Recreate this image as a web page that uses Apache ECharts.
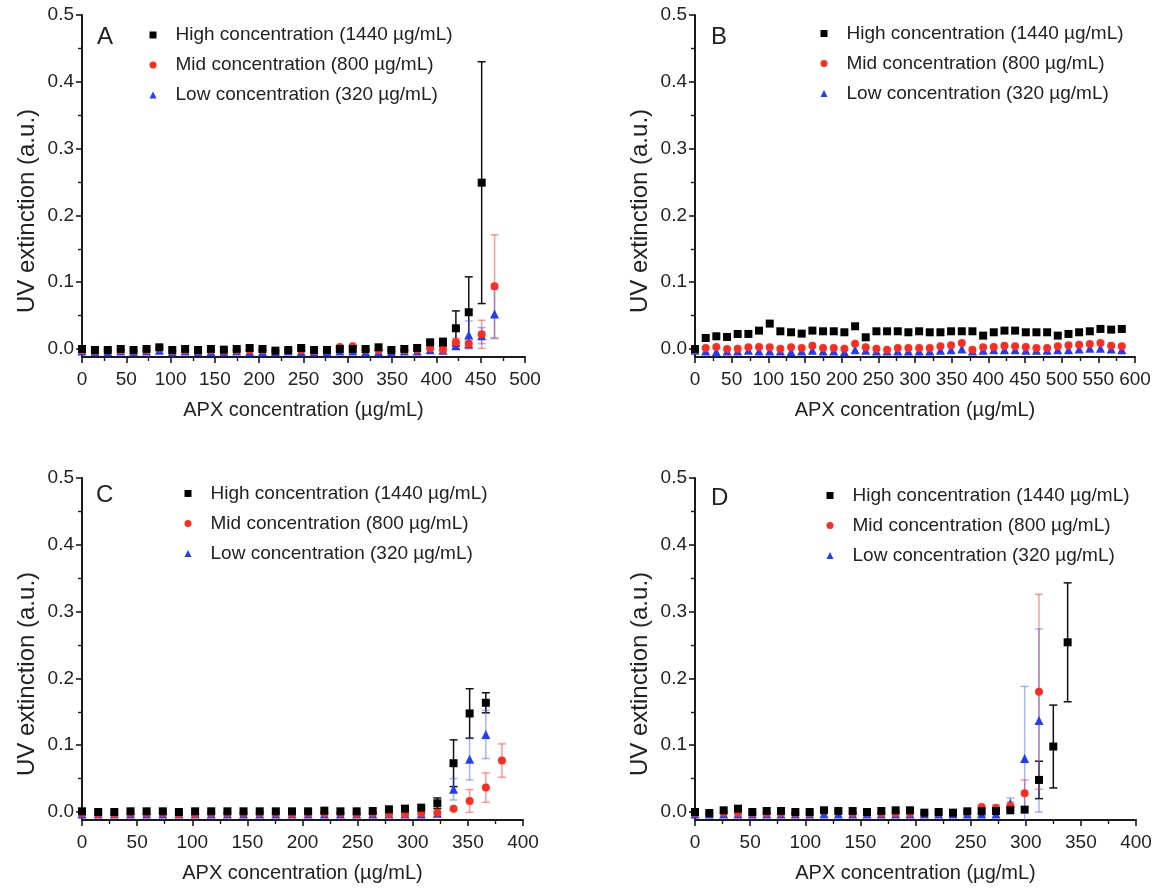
<!DOCTYPE html>
<html><head><meta charset="utf-8">
<script src="https://cdn.jsdelivr.net/npm/echarts@6/dist/echarts.min.js"></script>
<style>html,body{margin:0;padding:0;background:#fff}#c{width:1157px;height:888px}</style>
</head><body><div id="c"></div><script>
// ---------- data ----------
const seriesNames = ['High concentration (1440 µg/mL)', 'Mid concentration (800 µg/mL)', 'Low concentration (320 µg/mL)'];
const yTicks = [0, 0.1, 0.2, 0.3, 0.4, 0.5];
const yMinorTicks = [0.05, 0.15, 0.25, 0.35, 0.45];

// Panel A
const apxA = [0, 14.6, 29.1, 43.7, 58.2, 72.8, 87.3, 101.9, 116.4, 131.0, 145.5, 160.1, 174.6, 189.2, 203.7, 218.3, 232.8, 247.4, 261.9, 276.5, 291.0, 305.6, 320.1, 334.7, 349.2, 363.8, 378.3, 392.9, 407.4, 422.0, 436.5, 451.1, 465.6];
const highA = [0.000, -0.0015, -0.0015, 0.000, -0.0015, 0.000, 0.0025, -0.0015, 0.000, -0.0015, 0.000, -0.001, 0.000, 0.0015, 0.000, -0.0025, -0.0015, 0.0015, -0.0015, -0.0015, 0.000, 0.000, 0.000, 0.0025, -0.0015, 0.000, 0.0015, 0.010, 0.010, 0.031, 0.055, 0.249];
const highErrA = [0, 0, 0, 0, 0, 0, 0, 0, 0, 0, 0, 0, 0, 0, 0, 0, 0, 0, 0, 0, 0, 0, 0, 0, 0, 0, 0, 0.003, 0.006, 0.026, 0.053, 0.181];
const midA = [-0.002, -0.003, -0.002, -0.002, -0.003, -0.002, 0.001, -0.003, -0.002, -0.003, -0.002, -0.003, -0.002, -0.002, -0.002, -0.003, -0.002, -0.002, -0.003, -0.002, 0.003, 0.004, -0.001, -0.002, -0.002, -0.002, -0.001, 0.001, -0.001, 0.010, 0.008, 0.022, 0.094];
const midErrA = [0, 0, 0, 0, 0, 0, 0, 0, 0, 0, 0, 0, 0, 0, 0, 0, 0, 0, 0, 0, 0, 0, 0, 0, 0, 0, 0, 0, 0, 0.006, 0.005, 0.021, 0.077];
const lowA = [-0.003, -0.004, -0.004, -0.003, -0.004, -0.003, -0.002, -0.004, -0.003, -0.004, -0.004, -0.004, -0.003, -0.004, -0.004, -0.004, -0.003, -0.004, -0.004, -0.004, -0.003, -0.003, -0.004, -0.004, -0.004, -0.003, -0.003, -0.001, -0.002, 0.005, 0.021, 0.020, 0.0525];
const lowErrA = [0, 0, 0, 0, 0, 0, 0, 0, 0, 0, 0, 0, 0, 0, 0, 0, 0, 0, 0, 0, 0, 0, 0, 0, 0, 0, 0, 0, 0, 0.004, 0.021, 0.012, 0.037];

// Panel B
const apxB = [0, 14.6, 29.1, 43.7, 58.2, 72.8, 87.3, 101.9, 116.4, 131.0, 145.5, 160.1, 174.6, 189.2, 203.7, 218.3, 232.8, 247.4, 261.9, 276.5, 291.0, 305.6, 320.1, 334.7, 349.2, 363.8, 378.3, 392.9, 407.4, 422.0, 436.5, 451.1, 465.6, 480.2, 494.7, 509.3, 523.8, 538.4, 552.9, 567.5, 582.0];
const highB = [0.000, 0.0165, 0.019, 0.018, 0.0225, 0.0225, 0.0275, 0.038, 0.0265, 0.025, 0.023, 0.0275, 0.0265, 0.0265, 0.025, 0.034, 0.0175, 0.0265, 0.0265, 0.0265, 0.025, 0.0265, 0.025, 0.025, 0.0265, 0.0265, 0.0265, 0.020, 0.025, 0.0275, 0.0275, 0.025, 0.025, 0.025, 0.020, 0.0225, 0.025, 0.0265, 0.030, 0.029, 0.030];
const midB = [-0.001, 0.0015, 0.003, 0.000, 0.0005, 0.0025, 0.003, 0.0025, 0.0005, 0.0025, 0.0015, 0.005, 0.0015, 0.0015, 0.0005, 0.008, 0.0025, 0.0005, -0.001, 0.0015, 0.0015, 0.0015, 0.0015, 0.004, 0.0055, 0.009, -0.001, 0.0025, 0.003, 0.005, 0.004, 0.003, 0.0015, 0.0015, 0.004, 0.0055, 0.0065, 0.0075, 0.009, 0.005, 0.004];
const lowB = [-0.002, -0.003, -0.004, -0.003, -0.003, -0.002, -0.003, -0.003, -0.003, -0.004, -0.003, -0.002, -0.003, -0.003, -0.004, -0.001, -0.002, -0.003, -0.003, -0.003, -0.003, -0.003, -0.003, -0.002, -0.001, 0.000, -0.003, -0.002, -0.001, -0.001, -0.001, -0.002, -0.002, -0.002, -0.001, -0.001, 0.000, 0.001, 0.001, 0.000, -0.001];

// Panel C
const apxC = [0, 14.7, 29.3, 44.0, 58.6, 73.3, 87.9, 102.6, 117.2, 131.9, 146.5, 161.2, 175.8, 190.5, 205.1, 219.8, 234.4, 249.1, 263.7, 278.4, 293.0, 307.7, 322.3, 337.0, 351.6, 366.3, 380.9];
const highC = [0.001, 0.000, 0.000, 0.001, 0.001, 0.001, 0.000, 0.001, 0.001, 0.001, 0.001, 0.001, 0.001, 0.001, 0.001, 0.002, 0.001, 0.001, 0.0015, 0.004, 0.005, 0.0065, 0.013, 0.073, 0.1475, 0.1635];
const highErrC = [0, 0, 0, 0, 0, 0, 0, 0, 0, 0, 0, 0, 0, 0, 0, 0, 0, 0, 0, 0, 0, 0, 0.008, 0.035, 0.037, 0.015];
const midC = [-0.002, -0.003, -0.003, -0.002, -0.002, -0.002, -0.003, -0.003, -0.002, -0.002, -0.002, -0.002, -0.002, -0.003, -0.002, -0.002, -0.002, -0.003, -0.002, -0.003, -0.003, -0.002, -0.001, 0.005, 0.0165, 0.0365, 0.077];
const midErrC = [0, 0, 0, 0, 0, 0, 0, 0, 0, 0, 0, 0, 0, 0, 0, 0, 0, 0, 0, 0, 0, 0, 0, 0, 0.017, 0.022, 0.025];
const lowC = [-0.003, -0.003, -0.003, -0.003, -0.003, -0.003, -0.003, -0.003, -0.003, -0.003, -0.003, -0.003, -0.003, -0.003, -0.003, -0.003, -0.003, -0.003, -0.003, -0.003, -0.003, -0.003, -0.002, 0.034, 0.079, 0.116];
const lowErrC = [0, 0, 0, 0, 0, 0, 0, 0, 0, 0, 0, 0, 0, 0, 0, 0, 0, 0, 0, 0, 0, 0, 0, 0.016, 0.031, 0.036];

// Panel D
const apxD = [0, 13, 26, 39, 52, 65, 78, 91, 104, 117, 130, 143, 156, 169, 182, 195, 208, 221, 234, 247, 260, 273, 286, 299, 312, 325, 338];
const highD = [0.000, -0.0015, 0.0025, 0.005, 0.000, 0.0015, 0.0015, 0.000, 0.000, 0.0025, 0.0015, 0.0015, 0.000, 0.0015, 0.0025, 0.0025, -0.001, 0.000, -0.001, 0.001, 0.001, 0.0015, 0.0025, 0.0035, 0.048, 0.098, 0.254];
const highErrD = [0, 0, 0, 0, 0, 0, 0, 0, 0, 0, 0, 0, 0, 0, 0, 0, 0, 0, 0, 0, 0, 0, 0, 0, 0.028, 0.062, 0.089];
const midD = [-0.002, -0.002, -0.001, -0.0015, -0.002, -0.002, -0.002, -0.002, -0.002, 0.002, 0.002, -0.002, -0.001, -0.002, -0.002, -0.002, -0.002, -0.001, -0.001, 0.000, 0.0075, 0.006, 0.009, 0.028, 0.180];
const midErrD = [0, 0, 0, 0, 0, 0, 0, 0, 0, 0, 0, 0, 0, 0, 0, 0, 0, 0, 0, 0, 0.002, 0.005, 0.006, 0.020, 0.146];
const lowD = [-0.003, -0.003, -0.003, -0.003, -0.003, -0.003, -0.003, -0.003, -0.003, -0.003, -0.003, -0.003, -0.003, -0.003, -0.003, -0.003, -0.003, -0.003, -0.003, -0.003, -0.003, -0.003, 0.013, 0.080, 0.137];
const lowErrD = [0, 0, 0, 0, 0, 0, 0, 0, 0, 0, 0, 0, 0, 0, 0, 0, 0, 0, 0, 0, 0, 0, 0.008, 0.108, 0.137];

// ---------- layout / style ----------
const FONT = '"Liberation Sans", Arial, Helvetica, sans-serif';
const TXT = '#222';
const AX = '#1a1a1a';
const markerColors = ['#000000', '#ff2d1f', '#1f3dff'];
const errColors = ['#111111', 'rgba(255,70,60,0.55)', 'rgba(50,90,255,0.45)'];
const symbols = ['rect', 'circle', 'triangle'];

const panels = [
  { letter: 'A', grid: { left: 82, top: 15, width: 443, height: 342 }, xMax: 500, legend: { left: 149.5, top: 25.5 }, title: { left: 97, top: 25 },
    x: apxA, ys: [highA, midA, lowA], errs: [highErrA, midErrA, lowErrA] },
  { letter: 'B', grid: { left: 695, top: 15, width: 440, height: 342 }, xMax: 600, legend: { left: 820.5, top: 24 }, title: { left: 711, top: 25 },
    x: apxB, ys: [highB, midB, lowB], errs: [null, null, null] },
  { letter: 'C', grid: { left: 82, top: 478, width: 441, height: 342 }, xMax: 400, legend: { left: 184.5, top: 484 }, title: { left: 96, top: 483 },
    x: apxC, ys: [highC, midC, lowC], errs: [highErrC, midErrC, lowErrC] },
  { letter: 'D', grid: { left: 695, top: 478, width: 441, height: 342 }, xMax: 400, legend: { left: 826.5, top: 486 }, title: { left: 711, top: 486 },
    x: apxD, ys: [highD, midD, lowD], errs: [highErrD, midErrD, lowErrD] }
];

function errRender(color) {
  return function (params, api) {
    const x = api.value(0), y = api.value(1), e = api.value(2);
    const top = api.coord([x, y + e]);
    const bot = api.coord([x, y - e]);
    const cap = 4;
    const st = { stroke: color, lineWidth: 1.5 };
    return { type: 'group', children: [
      { type: 'line', shape: { x1: top[0], y1: top[1], x2: bot[0], y2: bot[1] }, style: st },
      { type: 'line', shape: { x1: top[0] - cap, y1: top[1], x2: top[0] + cap, y2: top[1] }, style: st },
      { type: 'line', shape: { x1: bot[0] - cap, y1: bot[1], x2: bot[0] + cap, y2: bot[1] }, style: st }
    ] };
  };
}

const grid = [], xAxis = [], yAxis = [], series = [], legend = [], title = [];
panels.forEach((p, k) => {
  grid.push(Object.assign({ containLabel: false }, p.grid));
  xAxis.push({
    gridIndex: k, type: 'value', min: 0, max: p.xMax, interval: 50,
    axisLine: { show: true, onZero: false, lineStyle: { color: AX, width: 2 } },
    axisTick: { show: true, length: 6, lineStyle: { color: AX, width: 1.6 } },
    minorTick: { show: true, splitNumber: 2, length: 4, lineStyle: { color: AX, width: 1.4 } },
    splitLine: { show: false }, minorSplitLine: { show: false },
    axisLabel: { margin: 13, fontSize: 19, fontFamily: FONT, color: TXT },
    name: 'APX concentration (µg/mL)', nameLocation: 'middle', nameGap: 43,
    nameTextStyle: { fontSize: 20, fontFamily: FONT, color: TXT }
  });
  yAxis.push({
    gridIndex: k, type: 'value', position: 'left', min: -0.012, max: 0.5,
    axisLine: { show: true, onZero: false, lineStyle: { color: AX, width: 2 } },
    axisTick: { show: true, length: 6, customValues: yTicks, lineStyle: { color: AX, width: 1.6 } },
    axisLabel: { show: true, customValues: yTicks, formatter: v => v.toFixed(1), margin: 8, fontSize: 19, fontFamily: FONT, color: TXT },
    splitLine: { show: false },
    name: 'UV extinction (a.u.)', nameLocation: 'middle', nameGap: 43,
    nameTextStyle: { fontSize: 24, fontFamily: FONT, color: TXT, padding: [0, 50, 0, 0] }
  });
  yAxis.push({
    gridIndex: k, type: 'value', position: 'left', min: -0.012, max: 0.5,
    axisLine: { show: false },
    axisTick: { show: true, length: 4, customValues: yMinorTicks, lineStyle: { color: AX, width: 1.4 } },
    axisLabel: { show: false }, splitLine: { show: false }
  });
  // error bars
  for (let s = 0; s < 3; s++) {
    const err = p.errs[s];
    if (!err) continue;
    const d = [];
    for (let i = 0; i < err.length; i++) if (err[i] > 0) d.push([p.x[i], p.ys[s][i], err[i]]);
    series.push({ type: 'custom', name: seriesNames[s] + ' SD ' + p.letter, xAxisIndex: k, yAxisIndex: 2 * k,
      renderItem: errRender(errColors[s]), data: d, z: 1, clip: true, silent: true });
  }
  // markers: low first (bottom), high last (top)
  for (let s = 2; s >= 0; s--) {
    const d = p.ys[s].map((v, i) => [p.x[i], v]);
    series.push({ type: 'scatter', name: seriesNames[s], xAxisIndex: k, yAxisIndex: 2 * k,
      symbol: symbols[s], symbolSize: s === 2 ? 9 : 8, itemStyle: { color: markerColors[s], opacity: 1 },
      data: d, z: 5 - s, clip: false, silent: true });
  }
  legend.push({
    left: p.legend.left, top: p.legend.top, orient: 'vertical', padding: 0,
    itemWidth: 7, itemHeight: 7, itemGap: 11, selectedMode: false,
    data: seriesNames,
    textStyle: { fontFamily: FONT, fontSize: 19, color: TXT, padding: [0, 0, 0, 14] }
  });
  title.push({ text: p.letter, left: p.title.left, top: p.title.top, padding: 0,
    textStyle: { fontFamily: FONT, fontSize: 24, fontWeight: 'normal', color: TXT } });
});

const chart = echarts.init(document.getElementById('c'), null, { renderer: 'canvas' });
chart.setOption({ backgroundColor: '#ffffff', animation: false, grid, xAxis, yAxis, series, legend, title });
</script></body></html>
